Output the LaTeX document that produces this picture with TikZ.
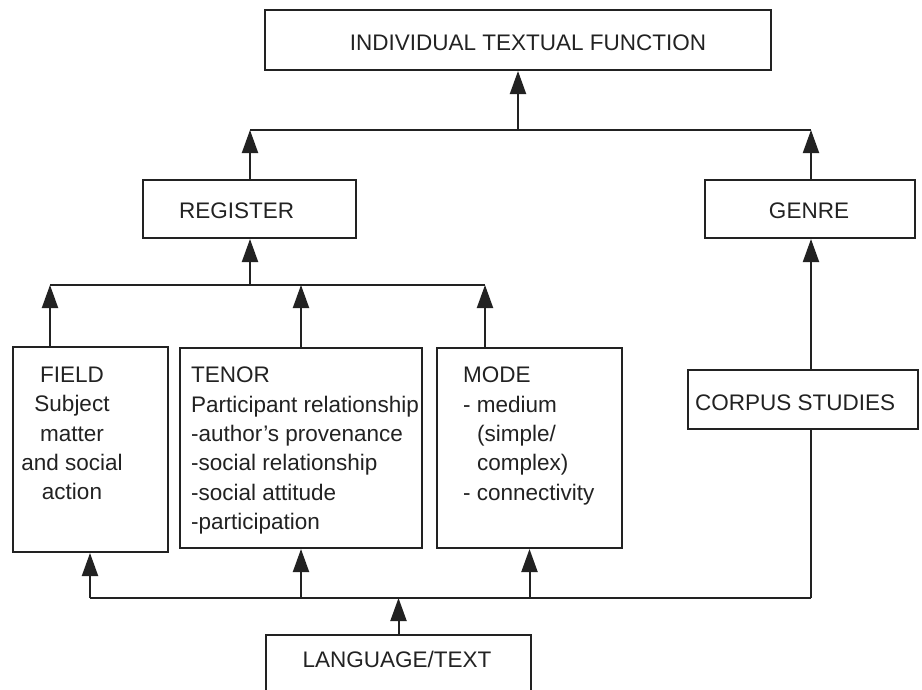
\documentclass[tikz,border=0pt]{standalone}
\usepackage{fontspec}
\setmainfont{Liberation Sans}
\usetikzlibrary{arrows.meta}
\definecolor{ink}{HTML}{222222}
\tikzset{
  box/.style={draw=ink, line width=2pt, inner sep=0pt},
  wire/.style={draw=ink, line width=2pt},
  up/.style={wire, -{Triangle[length=23pt,width=16pt]}},
  txt/.style={text=ink, inner sep=0pt, font=\fontsize{22.5}{29.3}\selectfont},
}
\begin{document}
\begin{tikzpicture}[x=1pt,y=-1pt]
\useasboundingbox (0,0) rectangle (922,689);
\clip (0,0) rectangle (922,689);
\fill[white] (0,0) rectangle (922,689);

% boxes
\node[box, minimum width=506, minimum height=60] (itf) at (518,40) {};
\node[box, minimum width=213, minimum height=58] (reg) at (249.5,209) {};
\node[box, minimum width=210, minimum height=58] (gen) at (810,209) {};
\node[box, minimum width=155, minimum height=205] (field) at (90.5,449.5) {};
\node[box, minimum width=242, minimum height=200] (tenor) at (301,448) {};
\node[box, minimum width=185, minimum height=200] (mode) at (529.5,448) {};
\node[box, minimum width=230, minimum height=59] (corpus) at (803,399.5) {};
\node[box, minimum width=265, minimum height=65] (lang) at (398.5,667.5) {};

% labels
\node[txt, anchor=base] (itft) at (528,50) {INDIVIDUAL TEXTUAL FUNCTION};
\node[txt, anchor=base west] (regt) at (179,218) {REGISTER};
\node[txt, anchor=base] (gent) at (809,218) {GENRE};
\node[txt, anchor=base west] (corpust) at (695,410) {CORPUS STUDIES};
\node[txt, anchor=base] (langt) at (397,667) {LANGUAGE/TEXT};
\node[txt, anchor=north, align=center] (fieldt) at (72,367)
  {FIELD\\Subject\\matter\\and social\\action};
\node[txt, anchor=north west, align=left] (tenort) at (191,367)
  {TENOR\\Participant relationship\\-author’s provenance\\-social relationship\\-social attitude\\-participation};
\node[txt, anchor=north west, align=left] (modet) at (463,367)
  {MODE\\- medium\\\hspace*{14pt}(simple/\\\hspace*{14pt}complex)\\- connectivity};

% top bus
\coordinate (t1) at (250,130);
\coordinate (t2) at (811,130);
\coordinate (tm) at (518,130);
\draw[wire] (t1) -- (t2);
\draw[up] (reg.north -| t1) -- (t1);
\draw[up] (gen.north -| t2) -- (t2);
\draw[up] (tm) -- (itf.south);

% middle bus
\coordinate (m1) at (50,285);
\coordinate (m2) at (250,285);
\coordinate (m3) at (485,285);
\draw[wire] (m1) -- (m3);
\draw[up] (m2) -- (reg.south -| m2);
\draw[up] (field.north -| m1) -- (m1);
\draw[up] (tenor.north) -- (tenor.north |- m1);
\draw[up] (mode.north -| m3) -- (m3);

% bottom bus
\coordinate (b1) at (90,598);
\coordinate (b2) at (811,598);
\draw[wire] (b1) -- (b2);
\draw[up] (b1) -- (field.south -| b1);
\draw[up] (tenor.south |- b1) -- (tenor.south);
\draw[up] (mode.south |- b1) -- (mode.south);
\draw[up] (lang.north) -- (lang.north |- b1);
\draw[wire] (b2) -- (corpus.south -| b2);
\draw[up] (corpus.north -| b2) -- (gen.south -| b2);
\end{tikzpicture}
\end{document}
